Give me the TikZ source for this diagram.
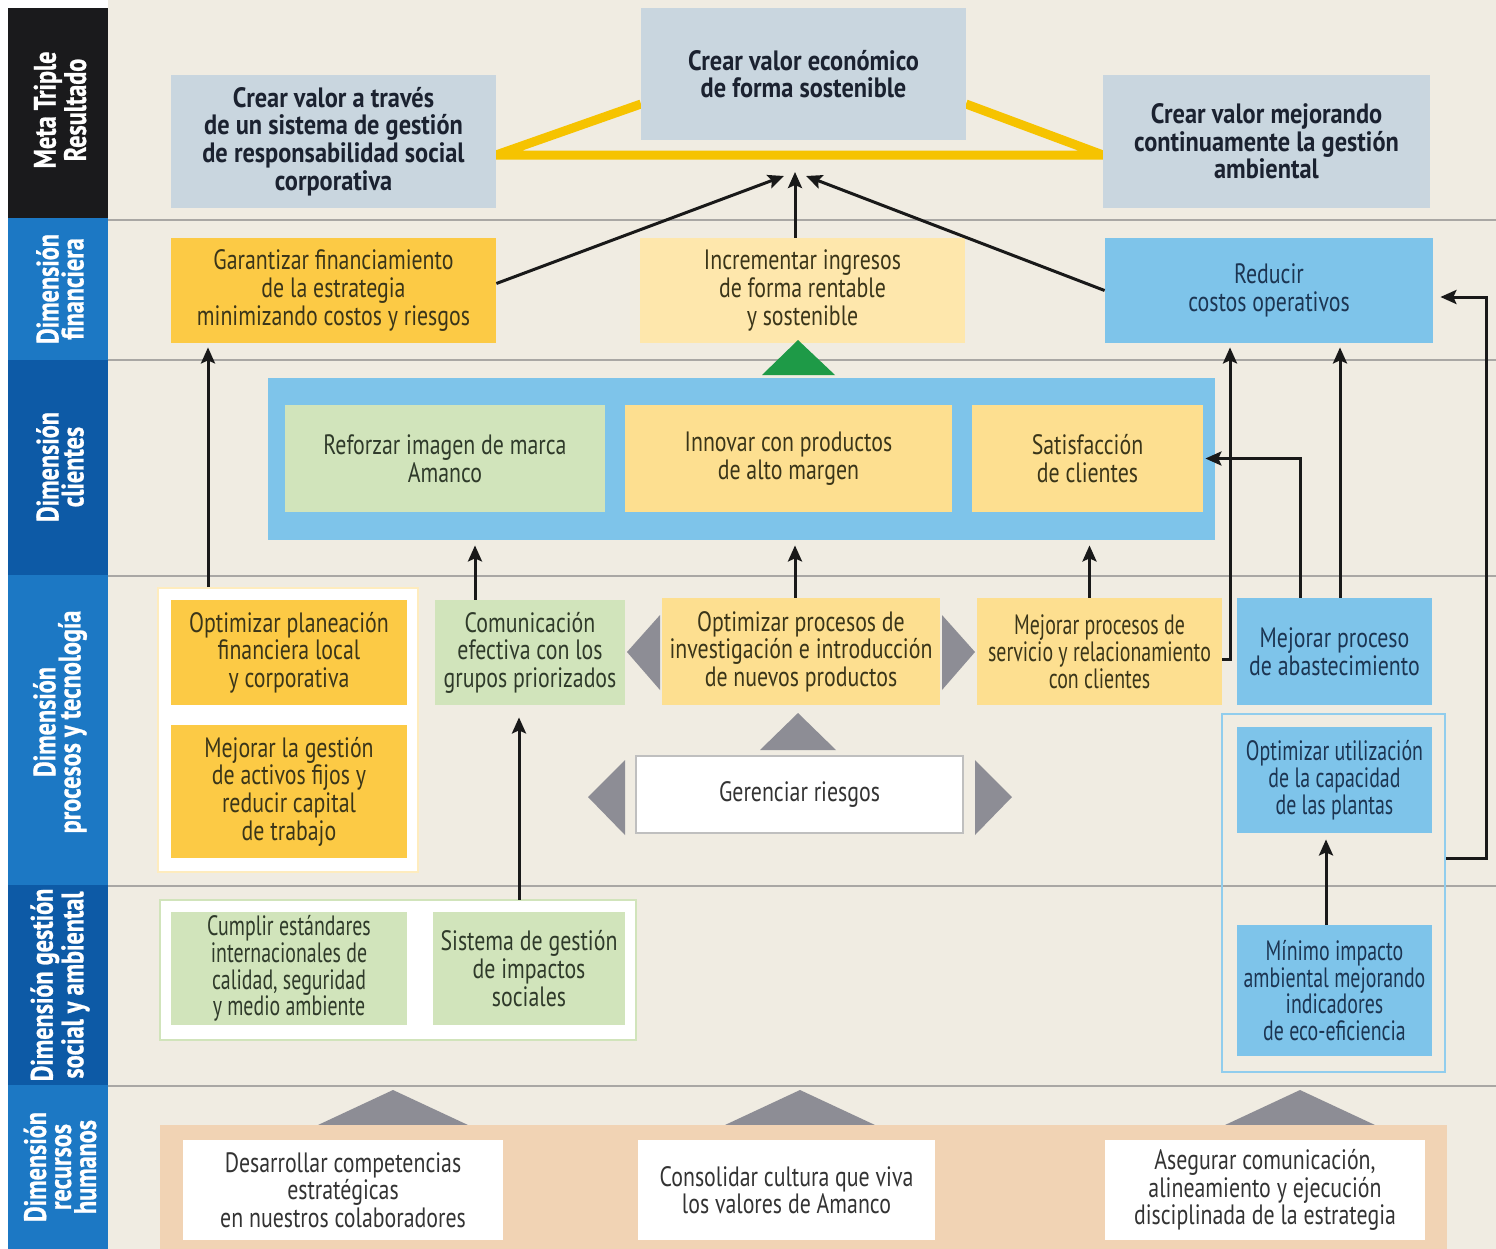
\documentclass[tikz,border=0pt]{standalone}
\usepackage{fontspec}
\setmainfont{PT Sans}[FakeStretch=0.78]
\newfontfamily\goalfont{PT Sans}[FakeStretch=0.87]
\newfontfamily\tightfont{PT Sans}[FakeStretch=0.71]
\newfontfamily\bandfont{PT Sans}[FakeStretch=0.78,FakeBold=0.8]
\usetikzlibrary{arrows.meta,calc}

\definecolor{paper}{HTML}{F0ECE2}
\definecolor{sepgrey}{HTML}{A9A7A4}
\definecolor{bandblack}{HTML}{1A1A1C}
\definecolor{bandbright}{HTML}{1C78C4}
\definecolor{banddark}{HTML}{0D5AA6}
\definecolor{goalfill}{HTML}{C9D6DF}
\definecolor{goaltext}{HTML}{1B2230}
\definecolor{gold}{HTML}{FCCA45}
\definecolor{sand}{HTML}{FDDF90}
\definecolor{sky}{HTML}{7EC4EA}
\definecolor{sage}{HTML}{D1E4BB}
\definecolor{peach}{HTML}{F1D3B4}
\definecolor{tri}{HTML}{8D8D95}
\definecolor{leaf}{HTML}{1E9A47}
\definecolor{amber}{HTML}{F6C300}
\definecolor{olive}{HTML}{3A3519}
\definecolor{navy}{HTML}{1C3552}
\definecolor{moss}{HTML}{2F3A2A}

\begin{document}
\begin{tikzpicture}[x=0.5pt,y=-0.5pt,
  % a box given by its left, top, right and bottom edges
  span/.style n args={4}{at={({(#1+#3)/2},{(#2+#4)/2})},
    minimum width={(#3-#1)*0.5pt}, minimum height={(#4-#2)*0.5pt}},
  cell/.style={inner sep=0pt, align=center, font=\fontsize{14}{13.8}\selectfont},
  tight/.style={font=\tightfont\fontsize{14}{13.4}\selectfont},
  goal/.style={cell, fill=goalfill, text=goaltext, font=\goalfont\bfseries\fontsize{14}{13.8}\selectfont},
  goldbox/.style={cell, fill=gold, text=olive},
  sandbox/.style={cell, fill=sand, text=olive},
  skybox/.style={cell, fill=sky, text=navy},
  sagebox/.style={cell, fill=sage, text=moss},
  whitebox/.style={cell, fill=white, text=black!80},
  frame/.style={inner sep=0pt},
  bandtext/.style={rotate=90, align=center, text=white, font=\bandfont\bfseries\fontsize{15.5}{12.5}\selectfont},
  bandrule/.style={draw=sepgrey, line width=1.3pt},
  arr/.style={draw=black!90, line width=1.5pt, -{Stealth[length=8pt,width=7pt,inset=1.5pt]}},
  gtri/.style={fill=tri}
]
\useasboundingbox (0,0) rectangle (1496,1249);

% background
\fill[paper] (0,0) rectangle (1496,1249);
\fill[white] (0,0) rectangle (8,1249);
\fill[white] (0,0) rectangle (108,8);

% dimension bands on the left
\fill[bandblack]  (8,8)    rectangle (108,218);
\fill[bandbright] (8,218)  rectangle (108,360);
\fill[banddark]   (8,360)  rectangle (108,575);
\fill[bandbright] (8,575)  rectangle (108,885);
\fill[banddark]   (8,885)  rectangle (108,1085);
\fill[bandbright] (8,1085) rectangle (108,1249);

\node[bandtext] (bMeta) at (60,110)  {Meta Triple\\Resultado};
\node[bandtext] (bFin)  at (60,289)  {Dimensión\\financiera};
\node[bandtext] (bCli)  at (60,467)  {Dimensión\\clientes};
\node[bandtext] (bPro)  at (60,722)  {Dimensión\\procesos y tecnología};
\node[bandtext] (bSoc)  at (60,985)  {Dimensión gestión\\social y ambiental};
\node[bandtext] (bRH)   at (60,1167) {Dimensión\\recursos\\humanos};

% row separators
\draw[bandrule] (108,220)  -- (1496,220);
\draw[bandrule] (108,360)  -- (1496,360);
\draw[bandrule] (108,576)  -- (1496,576);
\draw[bandrule] (108,886)  -- (1496,886);
\draw[bandrule] (108,1086) -- (1496,1086);

% golden triangle linking the three goals
\coordinate (yl)  at (496,155);
\coordinate (yr)  at (1103,155);
\coordinate (ycl) at (641,104);
\coordinate (ycr) at (966,104);
\draw[amber, line width=4.5pt] (ycl) -- (yl) -- (yr) -- (ycr);

% triple bottom line goals
\node[goal, span={171}{75}{496}{208}] (goalL) {Crear valor a través\\de un sistema de gestión\\de responsabilidad social\\corporativa};
\node[goal, span={641}{8}{966}{140}] (goalC) {Crear valor económico\\de forma sostenible};
\node[goal, span={1103}{75}{1430}{208}] (goalR) {Crear valor mejorando\\continuamente la gestión\\ambiental};

% financial dimension
\node[goldbox, span={171}{238}{496}{343}] (garant) {Garantizar financiamiento\\de la estrategia\\minimizando costos y riesgos};
\node[sandbox, fill=sand!75!white, span={640}{238}{965}{343}] (increm) {Incrementar ingresos\\de forma rentable\\y sostenible};
\node[skybox, span={1105}{238}{1433}{343}] (reducir) {Reducir\\costos operativos};

% customer dimension
\fill[leaf] (762,375) -- (798,340) -- (835,375) -- cycle;
\node[frame, fill=sky, span={268}{378}{1215}{540}] (clientes) {};
\node[sagebox, span={285}{405}{605}{512}] (reforzar) {Reforzar imagen de marca\\Amanco};
\node[sandbox, span={625}{405}{952}{512}] (innovar) {Innovar con productos\\de alto margen};
\node[sandbox, span={972}{405}{1203}{512}] (satisf) {Satisfacción\\de clientes};

% processes and technology dimension
\node[frame, fill=white, draw=gold!35, line width=0.8pt, span={158}{588}{418}{872}] (frameL) {};
\node[goldbox, span={171}{600}{407}{705}] (planea) {Optimizar planeación\\financiera local\\y corporativa};
\node[goldbox, span={171}{725}{407}{858}] (activos) {Mejorar la gestión\\de activos fijos y\\reducir capital\\de trabajo};
\node[sagebox, span={435}{600}{625}{705}] (comun) {Comunicación\\efectiva con los\\grupos priorizados};
\node[sandbox, span={662}{598}{940}{705}] (optproc) {Optimizar procesos de\\investigación e introducción\\de nuevos productos};
\node[sandbox, tight, span={977}{598}{1222}{705}] (servicio) {Mejorar procesos de\\servicio y relacionamiento\\con clientes};
\node[skybox, span={1237}{598}{1432}{705}] (abast) {Mejorar proceso\\de abastecimiento};

\fill[gtri] (627,652) -- (660,615) -- (660,690) -- cycle;
\fill[gtri] (975,652) -- (942,615) -- (942,690) -- cycle;
\fill[gtri] (760,750) -- (798,713) -- (836,750) -- cycle;
\fill[gtri] (588,797) -- (625,760) -- (625,835) -- cycle;
\fill[gtri] (1012,797) -- (975,760) -- (975,835) -- cycle;
\node[whitebox, draw=black!25, line width=1.2pt, span={636}{756}{963}{833}] (riesgos) {Gerenciar riesgos};

\node[frame, draw=sky!85!white, line width=1.2pt, span={1222}{714}{1445}{1072}] (frameR) {};
\node[skybox, tight, span={1237}{727}{1432}{833}] (optutil) {Optimizar utilización\\de la capacidad\\de las plantas};

% social and environmental dimension
\node[frame, fill=white, draw=sage, line width=0.8pt, span={160}{900}{636}{1040}] (frameS) {};
\node[sagebox, tight, span={171}{912}{407}{1025}] (cumplir) {Cumplir estándares\\internacionales de\\calidad, seguridad\\y medio ambiente};
\node[sagebox, span={433}{912}{625}{1025}] (sistema) {Sistema de gestión\\de impactos\\sociales};
\node[skybox, tight, span={1237}{925}{1432}{1056}] (minimo) {Mínimo impacto\\ambiental mejorando\\indicadores\\de eco-eficiencia};

% human resources dimension
\fill[gtri] (318,1125) -- (393,1090) -- (468,1125) -- cycle;
\fill[gtri] (725,1125) -- (800,1090) -- (875,1125) -- cycle;
\fill[gtri] (1225,1125) -- (1300,1090) -- (1375,1125) -- cycle;
\node[frame, fill=peach, span={160}{1125}{1447}{1249}] (rhbase) {};
\node[whitebox, span={183}{1140}{503}{1240}] (desarr) {Desarrollar competencias\\estratégicas\\en nuestros colaboradores};
\node[whitebox, span={638}{1140}{935}{1240}] (consol) {Consolidar cultura que viva\\los valores de Amanco};
\node[whitebox, span={1105}{1140}{1425}{1240}] (asegur) {Asegurar comunicación,\\alineamiento y ejecución\\disciplinada de la estrategia};

% cause-effect arrows towards the economic goal
\coordinate (tipL) at (784,176);
\coordinate (tipM) at (795,172);
\coordinate (tipR) at (806,176);
\draw[arr] ($(garant.east)+(0,-7)$) -- (tipL);
\draw[arr] (increm.north -| tipM) -- (tipM);
\draw[arr] (reducir.west) -- (tipR);

% arrows into the financial dimension
\coordinate (pa) at ($(frameL.north)+(-80,0)$);
\draw[arr, shorten >=2pt] (pa) -- (pa |- garant.south);
\coordinate (sv) at ($(servicio.east)+(0,8)$);
\draw[arr, shorten >=2pt] (sv) -| ($(reducir.south)+(-39,0)$);
\coordinate (ab2) at ($(abast.north)+(5.5,0)$);
\draw[arr, shorten >=2pt] (ab2) -- (ab2 |- reducir.south);
\coordinate (fr) at ($(frameR.east)+(0,-35)$);
\draw[arr, shorten >=3.5pt] (fr) -- ++(40,0) |- ($(reducir.east)+(0,6.5)$);

% arrows into the customer dimension
\coordinate (c1) at ($(comun.north)+(-55,0)$);
\draw[arr, shorten >=2.5pt] (c1) -- (c1 |- clientes.south);
\coordinate (c2) at (optproc.north -| tipM);
\draw[arr, shorten >=2.5pt] (c2) -- (c2 |- clientes.south);
\coordinate (c3) at ($(servicio.north)+(-10,0)$);
\draw[arr, shorten >=2.5pt] (c3) -- (c3 |- clientes.south);
\coordinate (ab1) at ($(abast.north)+(-34.5,0)$);
\draw[arr, shorten >=1pt] (ab1) |- (satisf.east);

% arrows inside the processes dimension
\coordinate (m1) at ($(minimo.north)+(-8.5,0)$);
\draw[arr, shorten >=3pt] (m1) -- (m1 |- optutil.south);
\coordinate (s2) at ($(sistema.north)+(-10,-12)$);
\draw[arr, shorten >=6pt] (s2) -- (s2 |- comun.south);

\end{tikzpicture}
\end{document}
